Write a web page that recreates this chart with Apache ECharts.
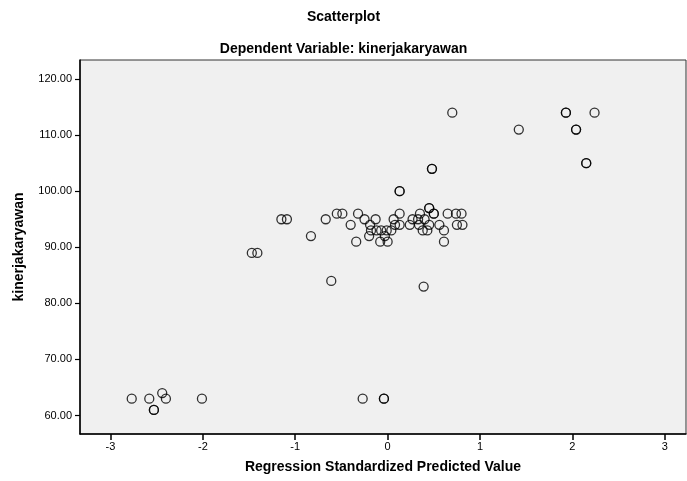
<!DOCTYPE html>
<html>
<head>
<meta charset="utf-8">
<script src="https://cdn.jsdelivr.net/npm/echarts@6/dist/echarts.min.js"></script>
<style>
  html, body { margin: 0; padding: 0; background: #fff; }
  #chart { width: 687px; height: 481px; }
</style>
</head>
<body>
<div id="chart"></div>
<script>
// regression standardized predicted value (x) and kinerjakaryawan (y)
const predicted = [
  -2.77, -2.58, -2.44, -2.40, -2.53, -2.53, -2.01, -0.27, -0.04, -0.04,
  0.70, 1.93, 1.93, 2.24, 1.42, 2.04, 2.04, 2.15, 2.15, 0.48, 0.48,
  0.13, 0.13, 0.45, 0.45,
  -0.55, -0.49, -0.32, 0.13, 0.35, 0.50, 0.50, 0.65, 0.74, 0.80,
  -1.15, -1.09, -0.67, -0.25, -0.13, 0.065, 0.27, 0.33, 0.40,
  -0.40, -0.19, 0.08, 0.13, 0.24, 0.34, 0.45, 0.56, 0.75, 0.81,
  -0.18, -0.12, -0.07, -0.01, 0.04, 0.38, 0.43, 0.61,
  -0.83, -0.20, -0.03,
  -0.34, -0.08, 0.00, 0.61,
  -1.47, -1.41,
  -0.61,
  0.39
];
const kinerja = [
  63, 63, 64, 63, 61, 61, 63, 63, 63, 63,
  114, 114, 114, 114, 111, 111, 111, 105, 105, 104, 104,
  100, 100, 97, 97,
  96, 96, 96, 96, 96, 96, 96, 96, 96, 96,
  95, 95, 95, 95, 95, 95, 95, 95, 95,
  94, 94, 94, 94, 94, 94, 94, 94, 94, 94,
  93, 93, 93, 93, 93, 93, 93, 93,
  92, 92, 92,
  91, 91, 91, 91,
  89, 89,
  84,
  83
];
const xTicks = [-3, -2, -1, 0, 1, 2, 3];
const yTicks = [60, 70, 80, 90, 100, 110, 120];

const points = predicted.map((x, i) => [x, kinerja[i]]);

const chart = echarts.init(document.getElementById('chart'));
const font = 'Liberation Sans, Arial, sans-serif';

chart.setOption({
  backgroundColor: '#fff',
  animation: false,
  title: [
    {
      text: 'Scatterplot',
      left: 'center',
      top: 5,
      textStyle: { fontFamily: font, fontSize: 14, fontWeight: 'bold', color: '#000' }
    },
    {
      text: 'Dependent Variable: kinerjakaryawan',
      left: 'center',
      top: 37,
      textStyle: { fontFamily: font, fontSize: 14, fontWeight: 'bold', color: '#000' }
    }
  ],
  grid: {
    left: 80,
    right: 1,
    top: 60,
    bottom: 47,
    show: true,
    backgroundColor: '#f0f0f0',
    borderColor: '#333',
    borderWidth: 1
  },
  xAxis: {
    type: 'value',
    min: -3.33,
    max: 3.23,
    name: 'Regression Standardized Predicted Value',
    nameLocation: 'middle',
    nameGap: 26,
    nameTextStyle: { fontFamily: font, fontSize: 14, fontWeight: 'bold', color: '#000' },
    axisLine: { show: true, onZero: false, lineStyle: { color: '#000', width: 1.5 } },
    axisTick: { show: true, length: 6, customValues: xTicks, lineStyle: { color: '#000', width: 1.5 } },
    axisLabel: { customValues: xTicks, fontFamily: font, fontSize: 11, color: '#000', margin: 7 },
    splitLine: { show: false }
  },
  yAxis: {
    type: 'value',
    min: 56.7,
    max: 123.4,
    name: 'kinerjakaryawan',
    nameLocation: 'middle',
    nameGap: 54,
    nameTextStyle: { fontFamily: font, fontSize: 14, fontWeight: 'bold', color: '#000' },
    axisLine: { show: true, onZero: false, lineStyle: { color: '#000', width: 1.5 } },
    axisTick: { show: true, length: 5, customValues: yTicks, lineStyle: { color: '#000', width: 1.2 } },
    axisLabel: {
      customValues: yTicks,
      fontFamily: font,
      fontSize: 11,
      color: '#000',
      margin: 8,
      formatter: v => v.toFixed(2)
    },
    splitLine: { show: false }
  },
  series: [
    {
      type: 'scatter',
      data: points,
      symbol: 'circle',
      symbolSize: 9,
      itemStyle: { color: 'rgba(0,0,0,0)', borderColor: '#000', borderWidth: 1.3 },
      emphasis: { disabled: true }
    }
  ]
});
</script>
</body>
</html>
